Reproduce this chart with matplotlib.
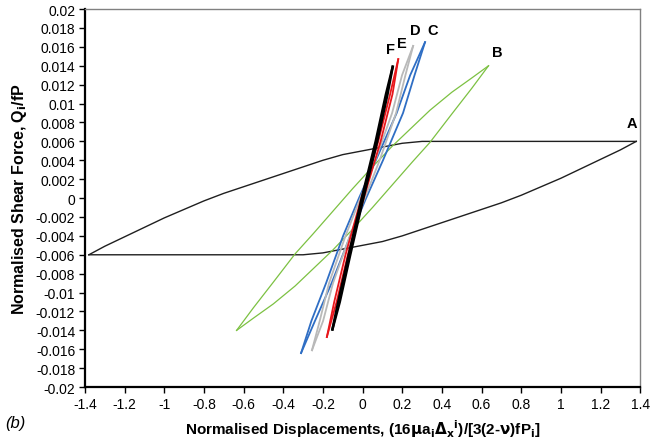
import matplotlib
matplotlib.use("Agg")
import matplotlib.pyplot as plt

plt.rcParams["font.family"] = ["Liberation Sans", "DejaVu Sans"]

# loop A (black, wide): loading branch, unloading is the point reflection
a_x = [-1.38, -1.3, -1.2, -1.1, -1.0, -0.9, -0.8, -0.7, -0.6, -0.5, -0.4, -0.3,
       -0.2, -0.1, 0.0, 0.1, 0.2, 0.3, 1.38]
a_y = [-0.006, -0.0051, -0.0041, -0.0031, -0.0021, -0.0012, -0.0003, 0.0005, 0.0012,
       0.0019, 0.0026, 0.0033, 0.004, 0.0046, 0.005, 0.0054, 0.0058, 0.006, 0.006]

# loop B (green)
b_x = [-0.635, -0.55, -0.45, -0.34, -0.25, -0.15, -0.05, 0.05, 0.15, 0.25, 0.34, 0.45, 0.55, 0.635]
b_y = [-0.014, -0.0116, -0.0089, -0.0059, -0.0038, -0.0014, 0.001, 0.0033, 0.0055, 0.0075,
       0.0093, 0.0112, 0.0127, 0.014]

# loops C-F: loading and unloading branches at shared force levels
c_y = [-0.0164, -0.013, -0.009, -0.004, 0.0, 0.004, 0.009, 0.013, 0.0165]
c_load = [-0.31, -0.258, -0.184, -0.098, -0.018, 0.067, 0.172, 0.24, 0.315]
c_unload = [-0.31, -0.24, -0.156, -0.062, 0.018, 0.103, 0.204, 0.262, 0.315]

d_y = [-0.0161, -0.013, -0.009, -0.004, 0.0, 0.004, 0.009, 0.013, 0.0161]
d_load = [-0.255, -0.216, -0.169, -0.086, -0.011, 0.064, 0.149, 0.199, 0.255]
d_unload = [-0.255, -0.199, -0.149, -0.064, 0.011, 0.086, 0.169, 0.216, 0.255]

e_y = [-0.0147, -0.011, -0.006, 0.0, 0.006, 0.011, 0.0147]
e_load = [-0.18, -0.143, -0.086, -0.006, 0.079, 0.139, 0.18]
e_unload = [-0.18, -0.131, -0.074, 0.006, 0.091, 0.151, 0.18]

f_y = [-0.0139, -0.011, -0.006, 0.0, 0.006, 0.011, 0.0139]
f_load = [-0.152, -0.123, -0.07, -0.004, 0.066, 0.118, 0.152]
f_unload = [-0.152, -0.115, -0.062, 0.004, 0.074, 0.126, 0.152]

labels = ["A", "B", "C", "D", "E", "F"]
label_x = [1.36, 0.68, 0.355, 0.265, 0.2, 0.14]
label_y = [0.0072, 0.0147, 0.0171, 0.0171, 0.0157, 0.015]

fig = plt.figure(figsize=(6.58, 4.39), dpi=100)
ax = fig.add_axes([0.129, 0.116, 0.844, 0.861])


def loop(xs, ys, color, lw):
    ax.plot(xs, ys, color=color, lw=lw)
    ax.plot([-v for v in xs], [-v for v in ys], color=color, lw=lw)


loop(a_x, a_y, "#1f1f1f", 1.0)
loop(b_x, b_y, "#7cc142", 0.9)
for load, unload, ys, col, lw in [
    (c_load, c_unload, c_y, "#2f6ec4", 1.3),
    (d_load, d_unload, d_y, "#b9b9b9", 1.3),
    (e_load, e_unload, e_y, "#e8161b", 1.3),
    (f_load, f_unload, f_y, "#000000", 1.8),
]:
    ax.plot(load, ys, color=col, lw=lw)
    ax.plot(unload, ys, color=col, lw=lw)

for t, x, y in zip(labels, label_x, label_y):
    ax.text(x, y, t, fontsize=10.5, fontweight="bold", ha="center", va="bottom")

ax.set_xlim(-1.4, 1.4)
ax.set_ylim(-0.02, 0.02)
ax.set_xticks([i / 10 for i in range(-14, 15, 2)])
ax.set_yticks([i / 1000 for i in range(-20, 21, 2)])
ax.set_xticklabels([f"{v:g}" for v in ax.get_xticks()])
ax.set_yticklabels([f"{round(v, 3):g}" for v in ax.get_yticks()])
ax.tick_params(direction="out", length=4, width=1, labelsize=10, pad=3)

for s in ["top", "right"]:
    ax.spines[s].set_color("#808080")
    ax.spines[s].set_linewidth(1.0)
for s in ["left", "bottom"]:
    ax.spines[s].set_color("#000000")
    ax.spines[s].set_linewidth(1.6)

ax.set_xlabel(r"Normalised Displacements, (16$\mathbf{\mu}$a$_\mathbf{i}$$\mathbf{\Delta}_\mathbf{x}$$^\mathbf{i}$)/[3(2-$\mathbf{\nu}$)fP$_\mathbf{i}$]",
              fontsize=11, fontweight="bold", labelpad=5)
ax.set_ylabel(r"Normalised Shear Force, Q$_\mathbf{i}$/fP", fontsize=11.5, fontweight="bold", labelpad=5)
fig.text(0.008, 0.025, "(b)", fontsize=12, style="italic")

fig.savefig("out.png", dpi=100)
plt.close(fig)
